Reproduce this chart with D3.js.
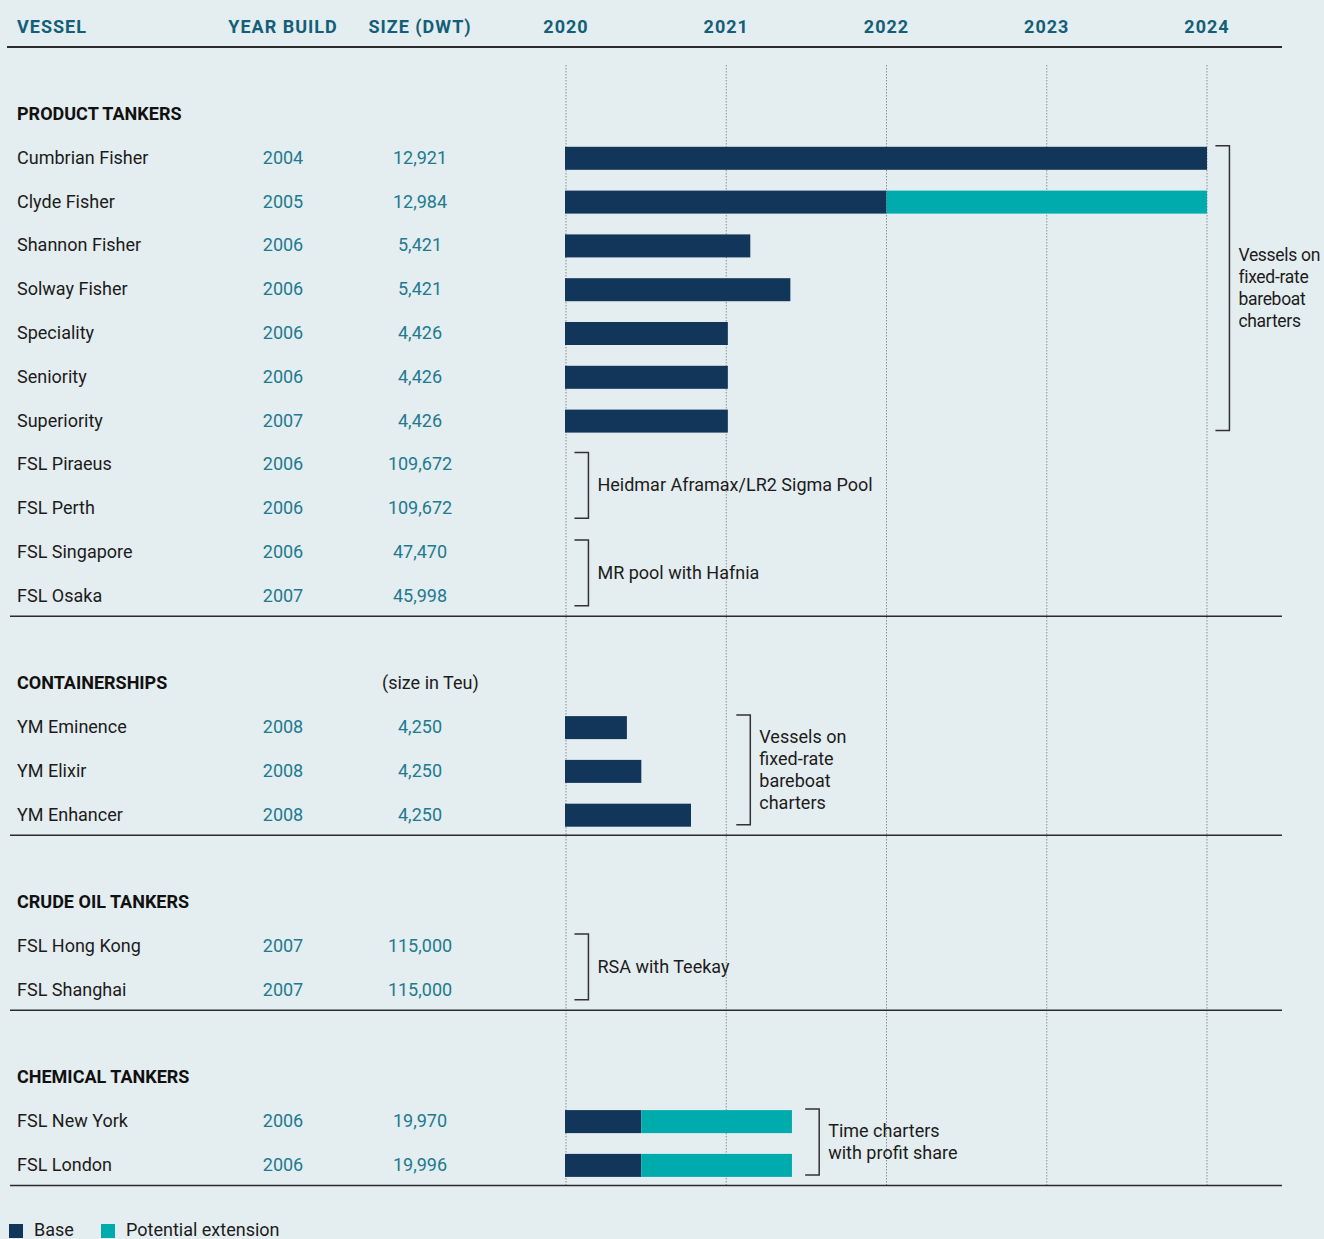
<!DOCTYPE html>
<html><head><meta charset="utf-8">
<script src="https://cdn.jsdelivr.net/npm/d3@7"></script>
<style>
html,body{margin:0;padding:0;background:#e4edef;}
svg{display:block;}
text{font-family:Roboto,"Liberation Sans",sans-serif;}
</style></head>
<body>
<svg id="chart" width="1324" height="1239"></svg>
<script>
// ---------- DATA ----------
const columnHeaders = ["VESSEL", "YEAR BUILD", "SIZE (DWT)"];
const yearTicks = [2020, 2021, 2022, 2023, 2024];
const sections = ["PRODUCT TANKERS", "CONTAINERSHIPS", "CRUDE OIL TANKERS", "CHEMICAL TANKERS"];
const sectionNotes = ["", "(size in Teu)", "", ""];
const vesselNames = ["Cumbrian Fisher","Clyde Fisher","Shannon Fisher","Solway Fisher","Speciality","Seniority","Superiority","FSL Piraeus","FSL Perth","FSL Singapore","FSL Osaka",
  "YM Eminence","YM Elixir","YM Enhancer",
  "FSL Hong Kong","FSL Shanghai",
  "FSL New York","FSL London"];
const vesselSection = [0,0,0,0,0,0,0,0,0,0,0, 1,1,1, 2,2, 3,3];
const yearBuilt = ["2004","2005","2006","2006","2006","2006","2007","2006","2006","2006","2007","2008","2008","2008","2007","2007","2006","2006"];
const vesselSize = ["12,921","12,984","5,421","5,421","4,426","4,426","4,426","109,672","109,672","47,470","45,998","4,250","4,250","4,250","115,000","115,000","19,970","19,996"];
// charter periods (decimal years), null = no bar
const baseEnd = [2024.0, 2022.0, 2021.15, 2021.4, 2021.01, 2021.01, 2021.01, null, null, null, null, 2020.38, 2020.47, 2020.78, null, null, 2020.47, 2020.47];
const extensionEnd = [null, 2024.0, null, null, null, null, null, null, null, null, null, null, null, null, null, null, 2021.41, 2021.41];
const barStart = 2020;
// annotations: first row, last row, bracket position (year), text lines
const noteFirst = [0, 7, 9, 11, 14, 16];
const noteLast = [6, 8, 10, 13, 15, 17];
const noteAt = [2024.14, 2020.14, 2020.14, 2021.15, 2020.14, 2021.58];
const noteText = [["Vessels on","fixed-rate","bareboat","charters"],["Heidmar Aframax/LR2 Sigma Pool"],["MR pool with Hafnia"],["Vessels on","fixed-rate","bareboat","charters"],["RSA with Teekay"],["Time charters","with profit share"]];
const legendLabels = ["Base", "Potential extension"];

// ---------- STYLE ----------
const C = {bg:"#e4edef", head:"#135f78", val:"#217a90", text:"#1c1c1c", base:"#12365a", ext:"#00abad", rule:"#2b2b2b", grid:"#8a8f92", bracket:"#333"};
const svg = d3.select("#chart");
svg.append("rect").attr("width",1324).attr("height",1239).attr("fill",C.bg);

const x = d3.scaleLinear().domain([2020, 2024]).range([566, 1207]);
const colYear = 283, colSize = 420, colName = 17;

// vertical layout
const rowH = 43.8;
let y = 113;
const sectionY = [], rowY = [], sepY = [];
sections.forEach((s, si) => {
  sectionY.push(y);
  const idx = vesselSection.map((v,i)=>v===si?i:-1).filter(i=>i>=0);
  idx.forEach((vi, k) => { rowY[vi] = y + rowH*(k+1); });
  const last = y + rowH*idx.length;
  sepY.push(last + 21.5);
  y = last + 21.5 + 66;
});

// grid lines
svg.append("g").selectAll("line").data(yearTicks).join("line")
  .attr("x1", d=>x(d)).attr("x2", d=>x(d)).attr("y1", 65).attr("y2", sepY[sepY.length-1])
  .attr("stroke", C.grid).attr("stroke-width", 1).attr("stroke-dasharray", "1.5,1.5");

// header
const hdr = svg.append("g").attr("font-weight", 700).attr("font-size", 18).attr("fill", C.head).attr("letter-spacing", "1px");
hdr.append("text").attr("x", colName).attr("y", 33).text(columnHeaders[0]);
hdr.append("text").attr("x", colYear).attr("y", 33).attr("text-anchor","middle").text(columnHeaders[1]);
hdr.append("text").attr("x", colSize).attr("y", 33).attr("text-anchor","middle").text(columnHeaders[2]);
hdr.selectAll(".yr").data(yearTicks).join("text").attr("class","yr")
  .attr("x", d=>x(d)).attr("y", 33).attr("text-anchor","middle").text(d=>d);
svg.append("line").attr("x1", 7).attr("x2", 1282).attr("y1", 47).attr("y2", 47).attr("stroke", C.rule).attr("stroke-width", 2);

// section headings and separators
svg.append("g").selectAll("text").data(sections).join("text")
  .attr("x", colName).attr("y", (d,i)=>sectionY[i]+7).attr("font-size", 18).attr("font-weight", 700).attr("fill", "#111").text(d=>d);
svg.append("g").selectAll("text").data(sectionNotes).join("text")
  .attr("x", 382).attr("y", (d,i)=>sectionY[i]+7).attr("font-size", 18).attr("fill", C.text).text(d=>d);
svg.append("g").selectAll("line").data(sepY).join("line")
  .attr("x1", 10).attr("x2", 1282).attr("y1", d=>d).attr("y2", d=>d).attr("stroke", C.rule).attr("stroke-width", 1.5);

// rows text
const rows = svg.append("g").attr("font-size", 18);
rows.selectAll(".nm").data(vesselNames).join("text").attr("class","nm")
  .attr("x", colName).attr("y", (d,i)=>rowY[i]+7).attr("fill", C.text).text(d=>d);
rows.selectAll(".yb").data(yearBuilt).join("text").attr("class","yb")
  .attr("x", colYear).attr("y", (d,i)=>rowY[i]+7).attr("text-anchor","middle").attr("fill", C.val).text(d=>d);
rows.selectAll(".sz").data(vesselSize).join("text").attr("class","sz")
  .attr("x", colSize).attr("y", (d,i)=>rowY[i]+7).attr("text-anchor","middle").attr("fill", C.val).text(d=>d);

// bars
const barIdx = d3.range(vesselNames.length);
svg.append("g").selectAll("rect").data(barIdx.filter(i=>baseEnd[i]!==null)).join("rect")
  .attr("x", x(barStart)-1).attr("y", i=>rowY[i]-10).attr("height", 23)
  .attr("width", i=>x(baseEnd[i])-x(barStart)+1).attr("fill", C.base);
svg.append("g").selectAll("rect").data(barIdx.filter(i=>extensionEnd[i]!==null)).join("rect")
  .attr("x", i=>x(baseEnd[i])).attr("y", i=>rowY[i]-10).attr("height", 23)
  .attr("width", i=>x(extensionEnd[i])-x(baseEnd[i])).attr("fill", C.ext);

// brackets and notes
const notes = svg.append("g");
noteText.forEach((lines, n) => {
  const top = rowY[noteFirst[n]] - 11, bot = rowY[noteLast[n]] + 11;
  const bx = x(noteAt[n]);
  notes.append("path").attr("d", `M${bx-14},${top}H${bx}V${bot}H${bx-14}`)
    .attr("fill","none").attr("stroke", C.bracket).attr("stroke-width", 1.5);
  const mid = (top+bot)/2, lh = 22;
  notes.append("g").selectAll("text").data(lines).join("text")
    .attr("x", bx+9).attr("y", (d,k)=> mid + (k-(lines.length-1)/2)*lh + 6)
    .attr("font-size", n===0 ? 17.5 : 18).attr("letter-spacing", n===0 ? "-0.3px" : null)
    .attr("fill", C.text).text(d=>d);
});

// legend
const lg = svg.append("g");
const legendX = [9, 101], legendColors = [C.base, C.ext];
lg.selectAll("rect").data(legendLabels).join("rect")
  .attr("x",(d,i)=>legendX[i]).attr("y",1224).attr("width",14).attr("height",14).attr("fill",(d,i)=>legendColors[i]);
lg.selectAll("text").data(legendLabels).join("text")
  .attr("x",(d,i)=>legendX[i]+25).attr("y",1236).attr("font-size",18).attr("fill",C.text).text(d=>d);
</script>
</body></html>
